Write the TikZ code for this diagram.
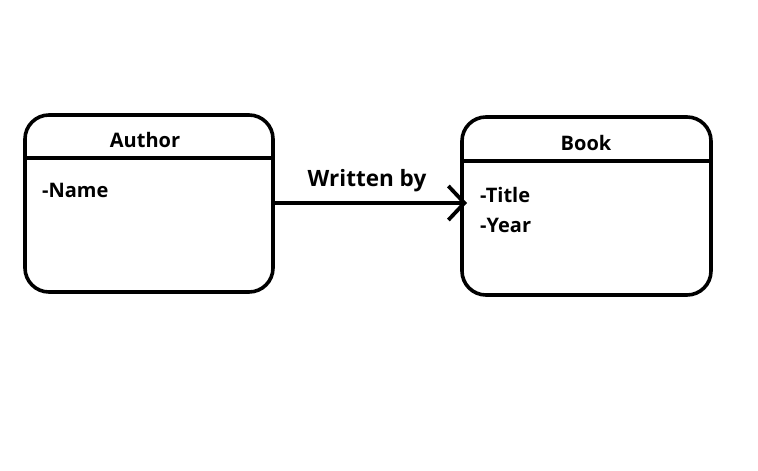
\documentclass[tikz,border=0pt]{standalone}
\usepackage{fontspec}
\setmainfont{Open Sans}
\usetikzlibrary{arrows.meta}
\begin{document}
\begin{tikzpicture}[x=1pt,y=-1pt,
  box/.style={draw=black,line width=3.6pt,rounded corners=24pt},
  sep/.style={draw=black,line width=3.6pt},
  lbl/.style={font=\bfseries\fontsize{20}{22}\selectfont,inner sep=0pt},
  big/.style={font=\bfseries\fontsize{22.5}{24}\selectfont,inner sep=0pt},
  conn/.style={draw=black,line width=3.6pt,-{Straight Barb[length=16pt,width=34pt,line width=3.8pt]}}]
\useasboundingbox (0,0) rectangle (758,471);
% Author
\draw[box] (25,115) rectangle (273,292);
\coordinate (aL) at (25,158);
\coordinate (aR) at (273,158);
\draw[sep] (aL) -- (aR);
\node[lbl] (author) at (145,140) {Author};
\node[lbl,anchor=west] (name) at (42,190) {-Name};
% Book
\draw[box] (462,117) rectangle (711,295);
\coordinate (bL) at (462,161);
\coordinate (bR) at (711,161);
\draw[sep] (bL) -- (bR);
\node[lbl] (book) at (586,143) {Book};
\node[lbl,anchor=west] (title) at (480,195) {-Title};
\node[lbl,anchor=west] (year) at (480,225) {-Year};
% connector
\coordinate (s) at (273,203);
\coordinate (e) at (467,203);
\draw[conn] (s) -- (e);
\node[big] (wb) at (367,181) {Written by};
\end{tikzpicture}
\end{document}
